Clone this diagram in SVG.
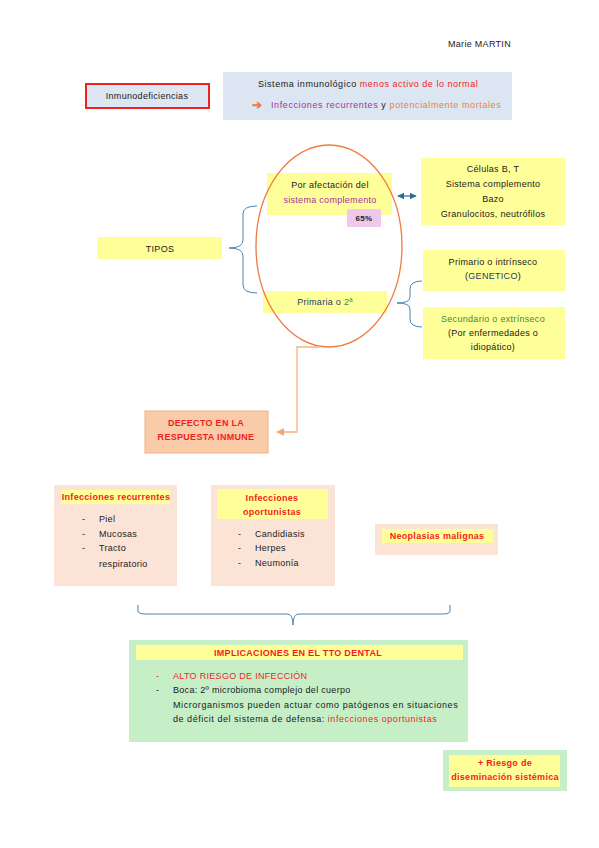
<svg xmlns="http://www.w3.org/2000/svg" width="599" height="848" viewBox="0 0 599 848">
<style>
text{font-family:"Liberation Sans",Arial,sans-serif;font-size:9px;fill:#1a1a1a;letter-spacing:0.3px}
.c{text-anchor:middle}
.b{font-weight:bold}
.red{fill:#f01e1e}
.pur{fill:#a5309a}
.org{fill:#f07c3a}
.navy{fill:#1f3a6e}
.grn{fill:#3f8a2c}
.yel{fill:#ffff99}
.brace{fill:none;stroke:#4a82ad;stroke-width:1}
</style>
<defs>
<marker id="ab" viewBox="0 0 10 10" refX="9" refY="5" markerWidth="6" markerHeight="6" orient="auto-start-reverse"><path d="M0,0 L10,5 L0,10 z" fill="#2d6a96"/></marker>
<marker id="ao" viewBox="0 0 10 10" refX="9" refY="5" markerWidth="6" markerHeight="6" orient="auto"><path d="M0,0 L10,5 L0,10 z" fill="#f4a774"/></marker>
</defs>
<rect width="599" height="848" fill="#fff"/>
<text x="448" y="47">Marie MARTIN</text>

<g id="inmuno">
<rect x="86" y="84" width="123" height="24" fill="#dde7f3" stroke="#ee2222" stroke-width="2"/>
<text class="c" x="147" y="99">Inmunodeficiencias</text>
</g>

<g id="sistema">
<rect x="223" y="72" width="289" height="48" fill="#dce6f2"/>
<text x="258" y="87" textLength="220" lengthAdjust="spacing">Sistema inmunológico <tspan class="red">menos activo de lo normal</tspan></text>
<text x="252" y="109" class="org b" style="letter-spacing:0;font-size:12px">➔</text>
<text x="271" y="108" textLength="230" lengthAdjust="spacing"><tspan class="pur">Infecciones recurrentes</tspan> y <tspan class="org">potencialmente mortales</tspan></text>
</g>

<g id="tipos">
<rect x="97" y="237" width="125" height="22" class="yel"/>
<text class="c" x="160" y="252">TIPOS</text>
</g>

<g id="afectacion">
<rect x="267" y="173" width="125" height="42" class="yel"/>
<text class="c" x="330" y="188">Por afectación del</text>
<text class="c pur" x="330" y="203">sistema complemento</text>
</g>

<g id="pct">
<rect x="347" y="209" width="34" height="18" fill="#f0c8ec"/>
<text class="c b" x="364" y="221" style="font-size:8px">65%</text>
</g>

<g id="celulas">
<rect x="421" y="158" width="144" height="67" class="yel"/>
<text class="c" x="493" y="172">Células B, T</text>
<text class="c" x="493" y="187">Sistema complemento</text>
<text class="c" x="493" y="202">Bazo</text>
<text class="c" x="493" y="217">Granulocitos, neutrófilos</text>
</g>

<g id="primaria">
<rect x="263" y="291" width="124" height="22" class="yel"/>
<text class="c" x="325" y="305"><tspan class="navy">Primaria o </tspan><tspan class="grn">2ª</tspan></text>
</g>

<g id="primario">
<rect x="423" y="250" width="142" height="41" class="yel"/>
<text class="c" x="493" y="265">Primario o intrínseco</text>
<text class="c" x="493" y="279">(<tspan class="navy">GENETICO</tspan>)</text>
</g>

<g id="secundario">
<rect x="423" y="307" width="142" height="52" class="yel"/>
<text class="c grn" x="493" y="322">Secundario o extrínseco</text>
<text class="c" x="493" y="336">(Por enfermedades o</text>
<text class="c" x="493" y="350">idiopático)</text>
</g>

<g id="defecto">
<rect x="145" y="411" width="123" height="42" fill="#f9cba8" stroke="#f4b183" stroke-width="1"/>
<text class="c b red" x="206" y="426">DEFECTO EN LA</text>
<text class="c b red" x="206" y="440">RESPUESTA INMUNE</text>
</g>

<g id="recurrentes">
<rect x="54" y="485" width="123" height="101" fill="#fbe3d6"/>
<rect x="61" y="490" width="109" height="14" class="yel"/>
<text class="c b red" x="116" y="500">Infecciones recurrentes</text>
<text x="82" y="522">-</text><text x="99" y="522">Piel</text>
<text x="82" y="537">-</text><text x="99" y="537">Mucosas</text>
<text x="82" y="551">-</text><text x="99" y="551">Tracto</text>
<text x="99" y="567">respiratorio</text>
</g>

<g id="oportunistas">
<rect x="211" y="485" width="124" height="101" fill="#fbe3d6"/>
<rect x="217" y="489" width="111" height="30" class="yel"/>
<text class="c b red" x="272" y="501">Infecciones</text>
<text class="c b red" x="272" y="515">oportunistas</text>
<text x="238" y="537">-</text><text x="255" y="537">Candidiasis</text>
<text x="238" y="551">-</text><text x="255" y="551">Herpes</text>
<text x="238" y="566">-</text><text x="255" y="566">Neumonía</text>
</g>

<g id="neoplasias">
<rect x="375" y="524" width="123" height="31" fill="#fbe3d6"/>
<rect x="382" y="529" width="111" height="14" class="yel"/>
<text class="c b red" x="437" y="539">Neoplasias malignas</text>
</g>

<g id="implicaciones">
<rect x="129" y="640" width="339" height="102" fill="#c6efc8"/>
<rect x="136" y="645" width="327" height="15" class="yel"/>
<text class="c b red" x="298" y="656">IMPLICACIONES EN EL TTO DENTAL</text>
<text x="156" y="679" class="red">-</text>
<text x="173" y="679" class="red">ALTO RIESGO DE INFECCIÓN</text>
<text x="156" y="693">-</text>
<text x="173" y="693">Boca: 2º microbioma complejo del cuerpo</text>
<text x="173" y="708" textLength="285" lengthAdjust="spacing">Microrganismos pueden actuar como patógenos en situaciones</text>
<text x="173" y="722" textLength="264" lengthAdjust="spacing">de déficit del sistema de defensa: <tspan class="red">infecciones oportunistas</tspan></text>
</g>

<g id="riesgo">
<rect x="443" y="750" width="124" height="41" fill="#c6efc8"/>
<rect x="449" y="755" width="111" height="32" class="yel"/>
<text class="c b red" x="505" y="766">+ Riesgo de</text>
<text class="c b red" x="505" y="780">diseminación sistémica</text>
</g>

<g id="connectors">
<ellipse cx="329" cy="246" rx="73" ry="101" fill="none" stroke="#ef7b3f" stroke-width="1.3"/>
<line x1="398" y1="196" x2="416" y2="196" stroke="#2d6a96" stroke-width="1.2" marker-start="url(#ab)" marker-end="url(#ab)"/>
<path class="brace" d="M257,206 Q243,206 243,214 V240 Q243,248 229,248 Q243,248 243,256 V285 Q243,293 257,293"/>
<path class="brace" d="M422,281 Q410,281 410,289 V297 Q410,303 397,303 Q410,303 410,309 V319 Q410,327 422,327"/>
<path class="brace" d="M138,605 V611 Q138,614 146,614 H287 Q293,614 293,625 Q293,614 299,614 H442 Q450,614 450,611 V605"/>
<path d="M320,347 H297 V432 H277" fill="none" stroke="#f4b183" stroke-width="1.3" marker-end="url(#ao)"/>
</g>
</svg>
